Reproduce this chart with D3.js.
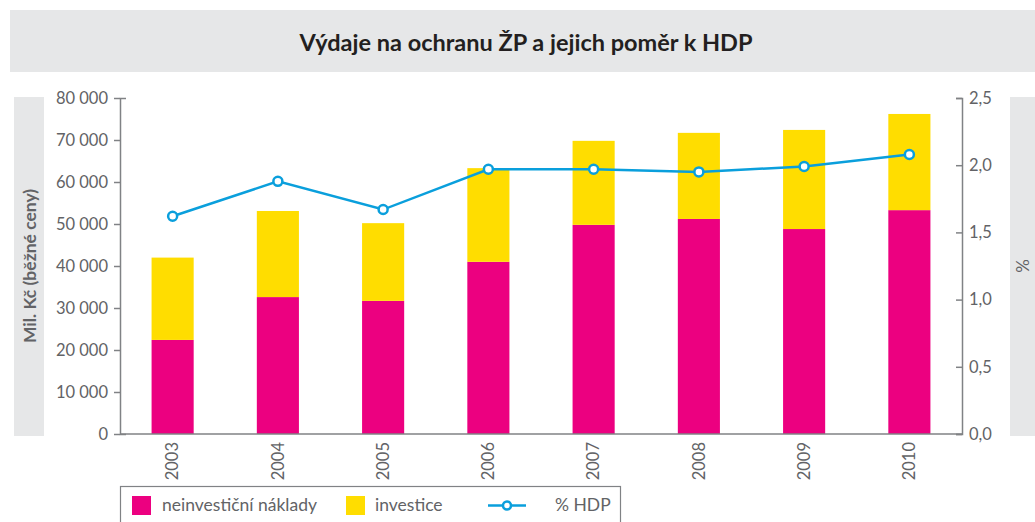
<!DOCTYPE html>
<html>
<head>
<meta charset="utf-8">
<script src="https://cdn.jsdelivr.net/npm/d3@7"></script>
<style>
  body { margin: 0; background: #fff; }
  text { font-family: Lato, "Open Sans", sans-serif; }
</style>
</head>
<body>
<div id="chart"></div>
<script>
// data
const years = ["2003", "2004", "2005", "2006", "2007", "2008", "2009", "2010"];
const neinvesticni = [22400, 32600, 31700, 41000, 49800, 51200, 48800, 53300];
const investice = [19600, 20500, 18500, 22300, 20000, 20500, 23600, 22900];
const hdp = [1.62, 1.88, 1.67, 1.97, 1.97, 1.95, 1.99, 2.08];
const leftTicks = [0, 10000, 20000, 30000, 40000, 50000, 60000, 70000, 80000];
const rightTicks = [0, 0.5, 1, 1.5, 2, 2.5];

const pink = "#ec0080", yellow = "#ffdd00", blue = "#0a9fdc", grey = "#626366", boxGrey = "#e6e7e8";

const W = 1035, H = 522;
const plot = {left: 120, right: 962, top: 98, bottom: 434};

const svg = d3.select("#chart").append("svg")
    .attr("width", W)
    .attr("height", H);

const cz = d3.formatLocale({decimal: ",", thousands: " ", grouping: [3], currency: ["", ""]});

// title bar
svg.append("rect")
    .attr("x", 10).attr("y", 10)
    .attr("width", W - 10).attr("height", 62)
    .attr("fill", boxGrey);

svg.append("text")
    .attr("x", 526).attr("y", 51)
    .attr("text-anchor", "middle")
    .style("font-size", "23.5px")
    .style("font-weight", "bold")
    .attr("fill", "#231f20")
    .text("Výdaje na ochranu ŽP a jejich poměr k HDP");

// side label boxes
svg.append("rect").attr("x", 14).attr("y", 97).attr("width", 30).attr("height", 339).attr("fill", boxGrey);
svg.append("rect").attr("x", 1010).attr("y", 97).attr("width", 25).attr("height", 339).attr("fill", boxGrey);

svg.append("text")
    .attr("transform", "translate(36,266) rotate(-90)")
    .attr("text-anchor", "middle")
    .style("font-size", "17.5px")
    .style("font-weight", "bold")
    .attr("fill", grey)
    .text("Mil. Kč (běžné ceny)");

svg.append("text")
    .attr("transform", "translate(1029,266) rotate(-90)")
    .attr("text-anchor", "middle")
    .style("font-size", "17px")
    .attr("fill", grey)
    .text("%");

// scales
const x = d3.scaleBand()
    .domain(years)
    .range([plot.left, plot.right])
    .paddingInner(0.6)
    .paddingOuter(0.3);

const y = d3.scaleLinear().domain([0, 80000]).range([plot.bottom, plot.top]);
const y2 = d3.scaleLinear().domain([0, 2.5]).range([plot.bottom, plot.top]);

// stacked bars
const rows = years.map((yr, i) => ({year: yr, neinvesticni: neinvesticni[i], investice: investice[i]}));
const stack = d3.stack().keys(["neinvesticni", "investice"])(rows);
const colors = {neinvesticni: pink, investice: yellow};

svg.append("g").selectAll("g")
    .data(stack)
    .enter().append("g")
    .attr("fill", d => colors[d.key])
    .selectAll("rect")
    .data(d => d)
    .enter().append("rect")
    .attr("x", d => x(d.data.year))
    .attr("width", x.bandwidth())
    .attr("y", d => y(d[1]))
    .attr("height", d => y(d[0]) - y(d[1]));

// axes
const yAxis = svg.append("g")
    .attr("transform", `translate(${plot.left},0)`)
    .call(d3.axisLeft(y).tickValues(leftTicks).tickSizeInner(6).tickSizeOuter(-6).tickPadding(6)
        .tickFormat(cz.format(",d")));

const y2Axis = svg.append("g")
    .attr("transform", `translate(${plot.right},0)`)
    .call(d3.axisRight(y2).tickValues(rightTicks).tickSizeInner(-6).tickSizeOuter(-6).tickPadding(7)
        .tickFormat(cz.format(".1f")));

const xAxis = svg.append("g")
    .attr("transform", `translate(0,${plot.bottom})`)
    .call(d3.axisBottom(x).tickSize(0).tickPadding(8));

xAxis.selectAll("text")
    .attr("transform", "rotate(-90)")
    .attr("text-anchor", "end")
    .attr("x", -8)
    .attr("y", 0)
    .attr("dy", "0.35em");

[yAxis, y2Axis, xAxis].forEach(a => {
    a.selectAll("path, line").attr("stroke", "#808285").attr("stroke-width", 1.5);
    a.selectAll("text").attr("fill", grey).style("font-size", "16.5px").style("font-family", "Lato, sans-serif");
});
xAxis.select(".domain").attr("d", `M${plot.left},0H${plot.right}`);

// % HDP line
const line = d3.line()
    .x((d, i) => x(years[i]) + x.bandwidth() / 2)
    .y(d => y2(d));

svg.append("path")
    .datum(hdp)
    .attr("fill", "none")
    .attr("stroke", blue)
    .attr("stroke-width", 2.5)
    .attr("d", line);

svg.append("g").selectAll("circle")
    .data(hdp)
    .enter().append("circle")
    .attr("cx", (d, i) => x(years[i]) + x.bandwidth() / 2)
    .attr("cy", d => y2(d))
    .attr("r", 4.5)
    .attr("fill", "#fff")
    .attr("stroke", blue)
    .attr("stroke-width", 2.5);

// legend
const legend = svg.append("g");
legend.append("rect")
    .attr("x", 120.5).attr("y", 486.5)
    .attr("width", 500).attr("height", 50)
    .attr("fill", "none")
    .attr("stroke", "#808285")
    .attr("stroke-width", 1.2);

const legendItems = [
    {label: "neinvestiční náklady", color: pink, x: 132, tx: 162},
    {label: "investice", color: yellow, x: 346, tx: 375}
];

legend.selectAll(".sw")
    .data(legendItems)
    .enter().append("rect")
    .attr("x", d => d.x).attr("y", 496)
    .attr("width", 19).attr("height", 19)
    .attr("fill", d => d.color);

legend.selectAll(".lt")
    .data(legendItems)
    .enter().append("text")
    .attr("x", d => d.tx).attr("y", 511)
    .style("font-size", "17.5px")
    .attr("fill", grey)
    .text(d => d.label);

legend.append("line")
    .attr("x1", 488).attr("x2", 526)
    .attr("y1", 505.5).attr("y2", 505.5)
    .attr("stroke", blue).attr("stroke-width", 2.5);
legend.append("circle")
    .attr("cx", 507).attr("cy", 505.5).attr("r", 4)
    .attr("fill", "#fff").attr("stroke", blue).attr("stroke-width", 2.5);
legend.append("text")
    .attr("x", 555).attr("y", 511)
    .style("font-size", "17.5px")
    .attr("fill", grey)
    .text("% HDP");
</script>
</body>
</html>
